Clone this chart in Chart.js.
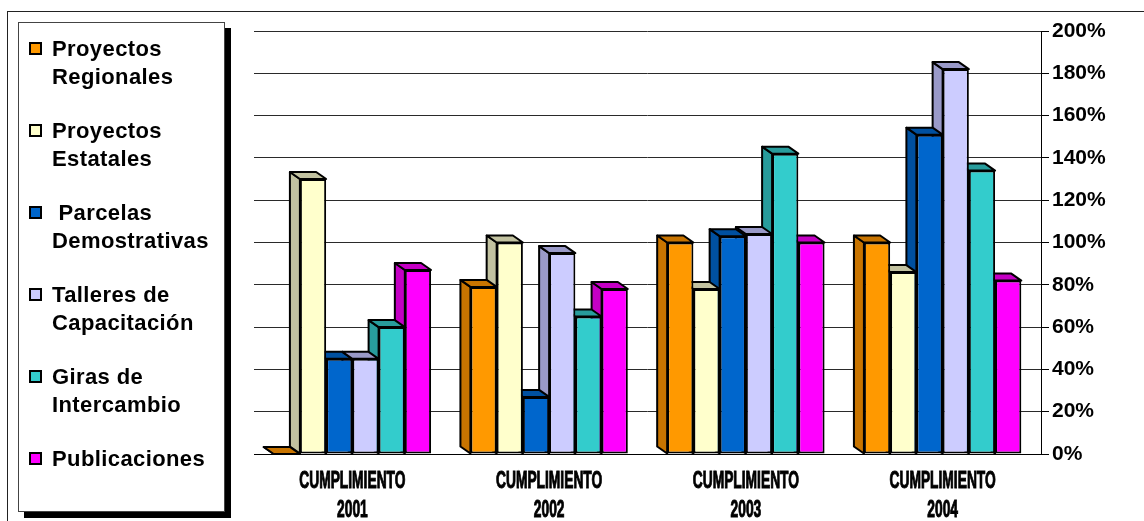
<!DOCTYPE html>
<html>
<head>
<meta charset="utf-8">
<script src="https://cdn.jsdelivr.net/npm/chart.js@4.4.0/dist/chart.umd.min.js"></script>
<style>
  html, body { margin: 0; padding: 0; background: #fff; }
  #wrap { position: relative; width: 1144px; height: 521px; overflow: hidden; }
  #frame { position: absolute; left: 7px; top: 11px; width: 1200px; height: 600px; border-top: 1px solid #222; border-left: 1px solid #222; }
  #chart { position: absolute; left: 0; top: 0; }
  #legend { position: absolute; left: 18px; top: 22px; width: 205px; height: 488px; border: 1px solid #444; background: #fff; box-shadow: 6px 6px 0 #000; font: bold 22px "Liberation Sans", Arial, sans-serif; letter-spacing: 0.4px; color: #000; }
  .item { position: absolute; left: 33px; line-height: 28px; white-space: pre; }
  .box { position: absolute; left: -23px; top: 7px; width: 13px; height: 13px; border: 2px solid #000; box-sizing: border-box; }
</style>
</head>
<body>
<div id="wrap">
  <div id="frame"></div>
  <canvas id="chart" width="1144" height="521"></canvas>
  <div id="legend"></div>
</div>
<script>
// categorias (dos lineas por etiqueta)
const categories = [
  ["CUMPLIMIENTO", "2001"],
  ["CUMPLIMIENTO", "2002"],
  ["CUMPLIMIENTO", "2003"],
  ["CUMPLIMIENTO", "2004"]
];

// valores en %
const regionales    = [0, 79, 100, 100];
const estatales     = [130, 100, 78, 86];
const parcelas      = [45, 27, 103, 151];
const talleres      = [45, 95, 104, 182];
const giras         = [60, 65, 142, 134];
const publicaciones = [87, 78, 100, 82];

const tickLabels = ["0%", "20%", "40%", "60%", "80%", "100%", "120%", "140%", "160%", "180%", "200%"];

const seriesNames = [
  ["Proyectos", "Regionales"],
  ["Proyectos", "Estatales"],
  [" Parcelas", "Demostrativas"],
  ["Talleres de", "Capacitación"],
  ["Giras de", "Intercambio"],
  ["Publicaciones"]
];
const seriesValues = [regionales, estatales, parcelas, talleres, giras, publicaciones];
const frontColors = ["#FF9900", "#FFFFCC", "#0066CC", "#CCCCFF", "#33CCCC", "#FF00FF"];
const sideColors  = ["#C87400", "#C2C2A0", "#0050A0", "#9999C8", "#289C9C", "#C400C4"];

// profundidad del efecto 3D
var DX = 10, DY = 7;

function poly(ctx, pts, fill) {
  ctx.beginPath();
  ctx.moveTo(pts[0][0], pts[0][1]);
  for (var k = 1; k < pts.length; k++) ctx.lineTo(pts[k][0], pts[k][1]);
  ctx.closePath();
  ctx.fillStyle = fill;
  ctx.fill();
  ctx.stroke();
}

const bars3d = {
  id: "bars3d",
  beforeDatasetsDraw: function (chart) {
    var ctx = chart.ctx;
    var rects = [];
    chart.data.datasets.forEach(function (ds, i) {
      chart.getDatasetMeta(i).data.forEach(function (bar) {
        var p = bar.getProps(["x", "y", "base", "width"], true);
        rects.push({
          l: p.x - p.width / 2,
          r: p.x + p.width / 2,
          t: Math.min(p.y, p.base),
          b: Math.max(p.y, p.base),
          i: i
        });
      });
    });
    ctx.save();
    ctx.strokeStyle = "#000";
    ctx.lineWidth = 2;
    ctx.lineJoin = "round";
    // caras laterales
    rects.forEach(function (q) {
      poly(ctx, [[q.l, q.b], [q.l - DX, q.b - DY], [q.l - DX, q.t - DY], [q.l, q.t]], sideColors[q.i]);
    });
    // caras superiores
    rects.forEach(function (q) {
      poly(ctx, [[q.l, q.t], [q.l - DX, q.t - DY], [q.r - DX, q.t - DY], [q.r, q.t]], sideColors[q.i]);
    });
    ctx.restore();
  },
  // etiquetas del eje x, letra alta y estrecha como en el original
  afterDraw: function (chart) {
    var ctx = chart.ctx;
    var xs = chart.scales.x;
    ctx.save();
    ctx.fillStyle = "#000";
    ctx.strokeStyle = "#000";
    ctx.lineWidth = 1;
    ctx.font = "bold 23px 'Liberation Sans', Arial";
    ctx.textAlign = "center";
    ctx.textBaseline = "alphabetic";
    categories.forEach(function (lines, i) {
      var cx = xs.getPixelForValue(i);
      lines.forEach(function (txt, j) {
        ctx.save();
        ctx.translate(cx, xs.top + 34 + j * 28.5);
        ctx.scale(0.6, 1);
        ctx.fillText(txt, 0, 0);
        ctx.strokeText(txt, 0, 0);
        ctx.restore();
      });
    });
    ctx.restore();
  }
};

// leyenda
var legendEl = document.getElementById("legend");
seriesNames.forEach(function (lines, i) {
  var item = document.createElement("div");
  item.className = "item";
  item.style.top = (12 + i * 82) + "px";
  item.textContent = lines.join("\n");
  var box = document.createElement("span");
  box.className = "box";
  box.style.background = frontColors[i];
  item.appendChild(box);
  legendEl.appendChild(item);
});

var ctx = document.getElementById("chart").getContext("2d");
var myChart = new Chart(ctx, {
  type: "bar",
  data: {
    labels: categories,
    datasets: seriesValues.map(function (vals, i) {
      return {
        label: seriesNames[i].join(" ").trim(),
        data: vals,
        backgroundColor: frontColors[i],
        borderColor: "#000",
        borderWidth: 2,
        borderSkipped: false,
        categoryPercentage: 0.8,
        barPercentage: 1
      };
    })
  },
  options: {
    responsive: false,
    animation: false,
    layout: { padding: { left: 254, top: 31, right: 0, bottom: 0 } },
    plugins: {
      legend: { display: false },
      tooltip: { enabled: false }
    },
    scales: {
      x: {
        grid: { display: false, drawTicks: false },
        border: { color: "#000", width: 1 },
        ticks: { display: false },
        afterFit: function (s) { s.height = 67; }
      },
      y: {
        position: "right",
        min: 0,
        max: 200,
        grid: { color: "#2a2a2a", tickColor: "#000", tickLength: 8, lineWidth: 1 },
        border: { color: "#000", width: 1 },
        ticks: {
          stepSize: 20,
          color: "#000",
          padding: 3,
          font: { family: "'Liberation Sans', Arial", weight: "bold", size: 21 },
          callback: function (v, idx) { return tickLabels[idx]; }
        },
        afterFit: function (s) { s.width = 103; }
      }
    }
  },
  plugins: [bars3d]
});
</script>
</body>
</html>
